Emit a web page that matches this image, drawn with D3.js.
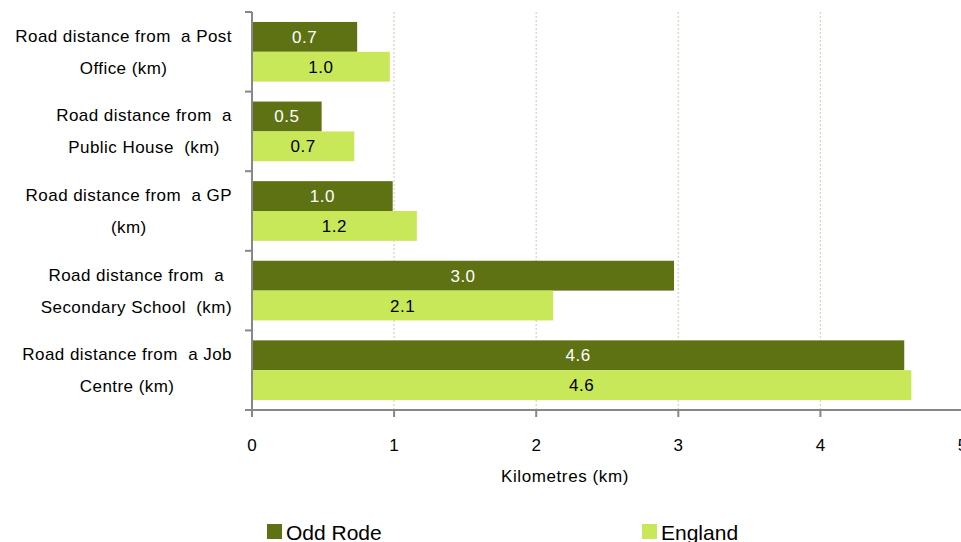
<!DOCTYPE html>
<html>
<head>
<meta charset="utf-8">
<script src="https://cdn.jsdelivr.net/npm/d3@7"></script>
<style>
  body { margin: 0; background: #fff; }
  svg { font-family: "Liberation Sans", Arial, sans-serif; }
</style>
</head>
<body>
<div id="chart"></div>
<script>
let width = 961;
let height = 542;

// data
const categories = [
  ["Road distance from  a Post", "Office (km)"],
  ["Road distance from  a", "Public House  (km)"],
  ["Road distance from  a GP", "(km)"],
  ["Road distance from  a", "Secondary School  (km)"],
  ["Road distance from  a Job", "Centre (km)"]
];
const seriesNames = ["Odd Rode", "England"];
const oddRode = [0.74, 0.49, 0.99, 2.97, 4.59];
const england = [0.97, 0.72, 1.16, 2.12, 4.64];
const xTicks = [0, 1, 2, 3, 4, 5];
const colors = ["#5e7113", "#c8e85a"];

let svg = d3.select("#chart")
            .append("svg")
            .attr("width", width)
            .attr("height", height);

let x = d3.scaleLinear().domain([0, 5]).range([252, 962.5]);
let y = d3.scaleBand().domain(d3.range(categories.length)).range([12, 410]).paddingInner(0.25).paddingOuter(0.125);
let ySub = d3.scaleBand().domain([0, 1]).range([0, y.bandwidth()]);

// gridlines
svg.append("g")
  .selectAll("line")
  .data(xTicks.filter(d => d > 0 && d < 5))
  .enter()
  .append("line")
  .attr("x1", d => x(d)).attr("x2", d => x(d))
  .attr("y1", 12).attr("y2", 410)
  .attr("stroke", "#d9d6bf")
  .attr("stroke-width", 1.3)
  .attr("stroke-dasharray", "2,2");

// bars
const data = categories.map((c, i) => ({ i, vals: [oddRode[i], england[i]] }));
let groups = svg.selectAll(".cat")
  .data(data)
  .enter()
  .append("g")
  .attr("transform", d => `translate(0,${y(d.i)})`);

groups.selectAll("rect")
  .data(d => d.vals)
  .enter()
  .append("rect")
  .attr("x", x(0))
  .attr("y", (d, j) => ySub(j))
  .attr("width", d => x(d) - x(0))
  .attr("height", ySub.bandwidth())
  .attr("fill", (d, j) => colors[j]);

groups.selectAll("text")
  .data(d => d.vals)
  .enter()
  .append("text")
  .attr("x", d => (x(d) + x(0)) / 2)
  .attr("y", (d, j) => ySub(j) + ySub.bandwidth() / 2 + 6)
  .attr("text-anchor", "middle")
  .attr("font-size", 17)
  .attr("letter-spacing", 0.5)
  .attr("fill", (d, j) => j === 0 ? "#fff" : "#000")
  .text(d => d.toFixed(1));

// axes
const axisColor = "#878787";
svg.append("line")
  .attr("x1", x(0)).attr("x2", x(0)).attr("y1", 12).attr("y2", 410)
  .attr("stroke", axisColor).attr("stroke-width", 2);
svg.append("g")
  .selectAll("line")
  .data(d3.range(categories.length + 1))
  .enter()
  .append("line")
  .attr("x1", 245).attr("x2", x(0))
  .attr("y1", d => 12 + d * (398 / categories.length))
  .attr("y2", d => 12 + d * (398 / categories.length))
  .attr("stroke", axisColor).attr("stroke-width", 2);

svg.append("line")
  .attr("x1", x(0) - 7).attr("x2", width).attr("y1", 410).attr("y2", 410)
  .attr("stroke", axisColor).attr("stroke-width", 2);
svg.append("g")
  .selectAll("line")
  .data(xTicks)
  .enter()
  .append("line")
  .attr("x1", d => x(d)).attr("x2", d => x(d))
  .attr("y1", 410).attr("y2", 417)
  .attr("stroke", axisColor).attr("stroke-width", 2);

svg.append("g")
  .selectAll("text")
  .data(xTicks)
  .enter()
  .append("text")
  .attr("x", d => x(d))
  .attr("y", 451)
  .attr("text-anchor", "middle")
  .attr("font-size", 17)
  .text(d => d);

svg.append("text")
  .attr("x", 565).attr("y", 482)
  .attr("text-anchor", "middle")
  .attr("font-size", 17)
  .attr("letter-spacing", 0.6)
  .text("Kilometres (km)");

// category labels, lines centred in a block right-aligned to the axis
categories.forEach((lines, i) => {
  let g = svg.append("g");
  let texts = lines.map((l, k) => g.append("text")
    .attr("y", y(i) + y.bandwidth() / 2 - 10 + k * 32)
    .attr("text-anchor", "middle")
    .attr("font-size", 17)
    .attr("letter-spacing", 0.45)
    .attr("xml:space", "preserve")
    .style("white-space", "pre")
    .text(l));
  let w = d3.max(texts, t => t.node().getComputedTextLength());
  texts.forEach(t => t.attr("x", 232 - w / 2));
});

// legend
const legendX = [267, 642];
seriesNames.forEach((s, j) => {
  svg.append("rect")
    .attr("x", legendX[j]).attr("y", 524)
    .attr("width", 15).attr("height", 15)
    .attr("fill", colors[j]);
  svg.append("text")
    .attr("x", legendX[j] + 19).attr("y", 540)
    .attr("font-size", 21)
    .text(s);
});
</script>
</body>
</html>
